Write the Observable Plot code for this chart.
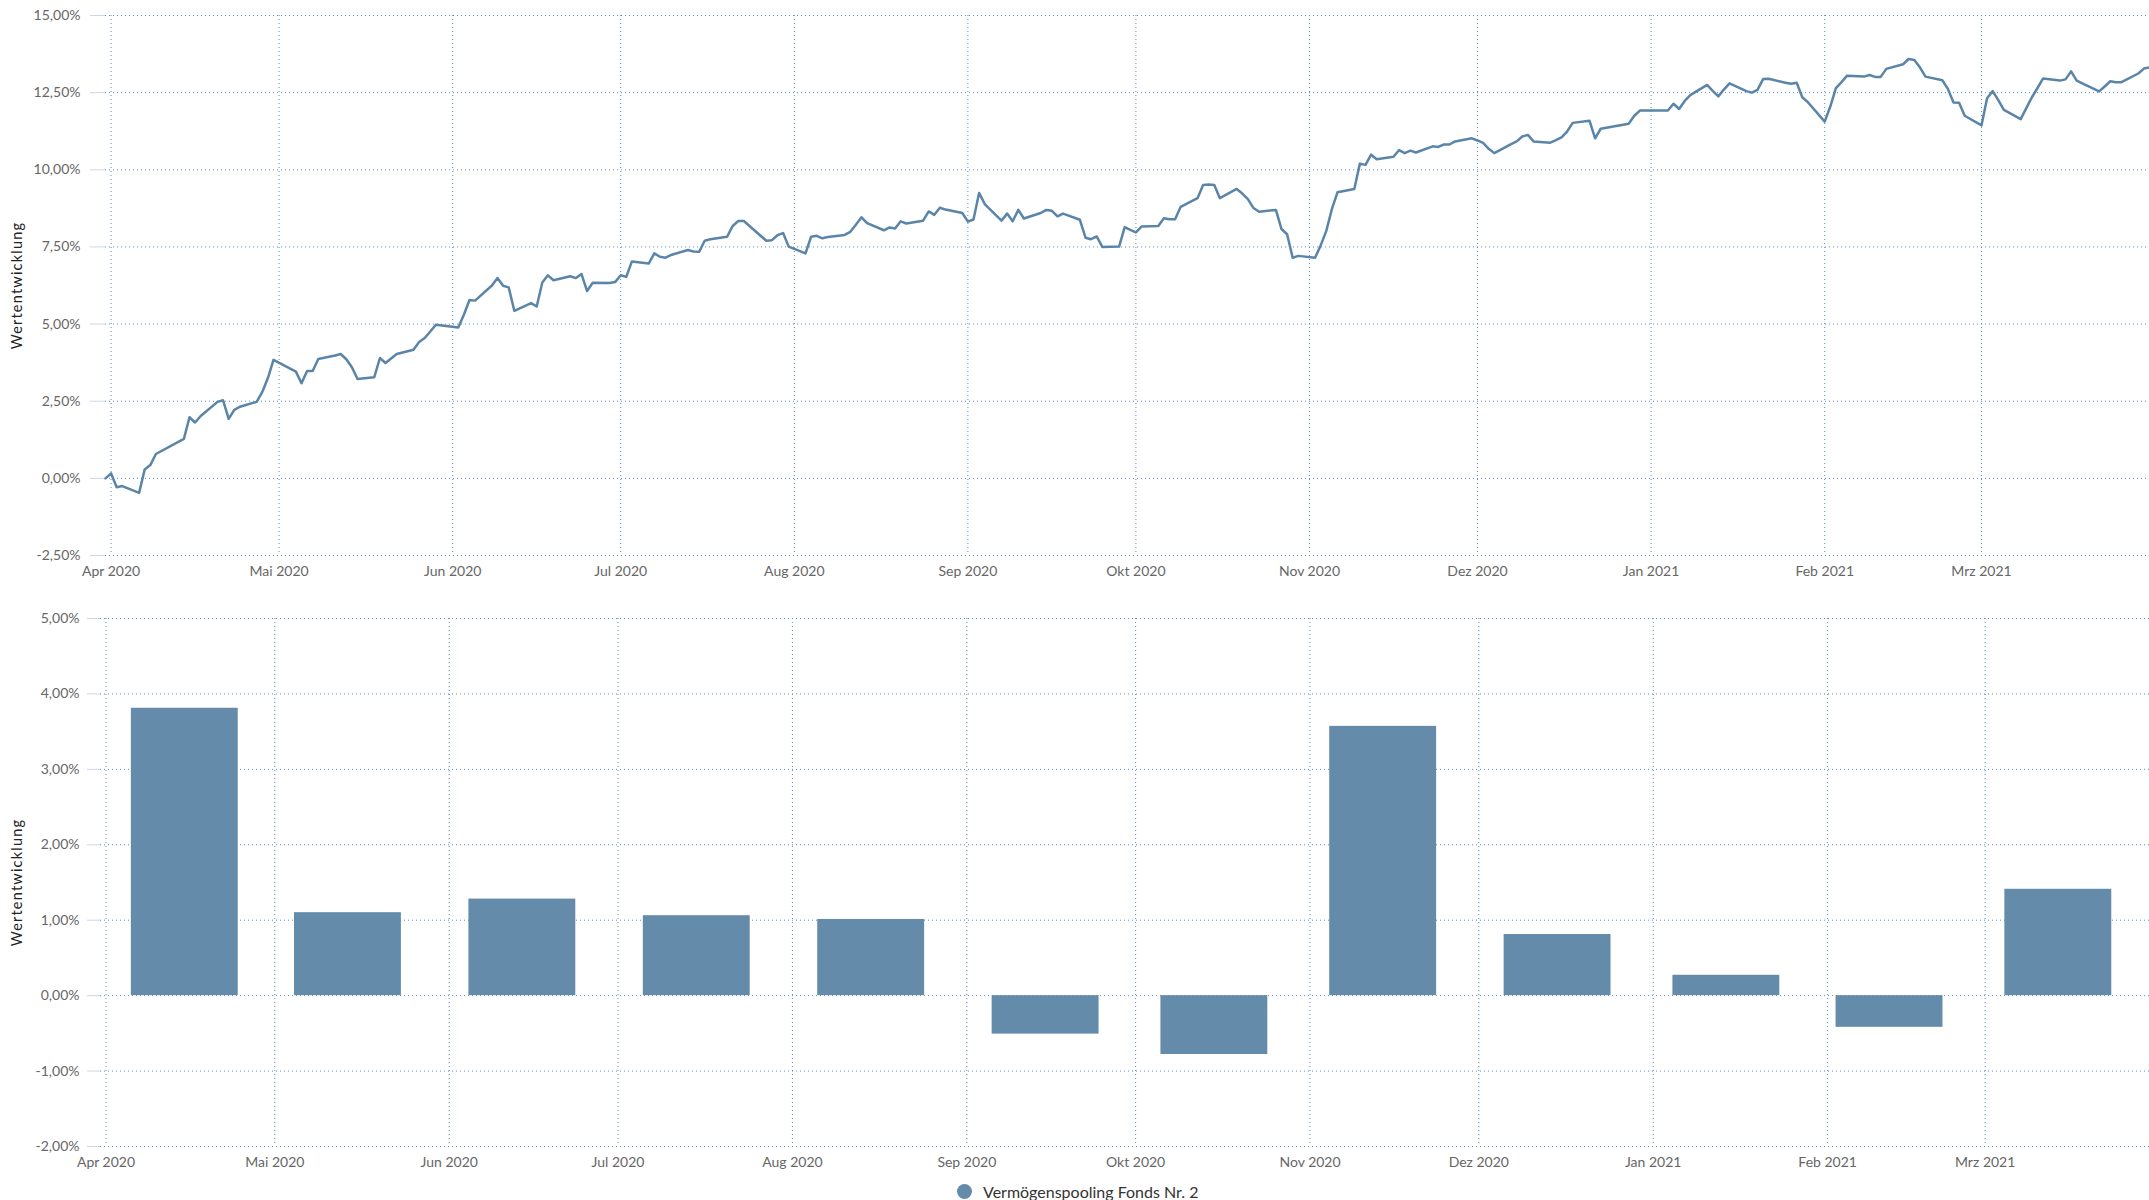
<!DOCTYPE html>
<html><head><meta charset="utf-8">
<script src="https://cdn.jsdelivr.net/npm/d3@7"></script>
<script src="https://cdn.jsdelivr.net/npm/@observablehq/plot@0.6"></script>
<style>
html,body{margin:0;padding:0;background:#fff;overflow:hidden;}
#root{position:relative;width:2149px;height:1200px;font-family:Lato,sans-serif;}
#top{position:absolute;left:0;top:0;}
#bottom{position:absolute;left:0;top:590px;}
#legend{position:absolute;top:1181px;left:957px;height:21px;display:flex;align-items:center;font-family:Lato,sans-serif;font-size:16px;color:#333;white-space:nowrap;}
#legend .dot{width:15px;height:15px;border-radius:50%;margin-right:11px;}
</style></head>
<body><div id="root"><div id="top"></div><div id="bottom"></div><div id="legend"></div></div>
<script>
// ---------- data ----------
const seriesName = "Vermögenspooling Fonds Nr. 2";
const axisTitle = "Wertentwicklung";

const tickDates = ["2020-04-01","2020-05-01","2020-06-01","2020-07-01","2020-08-01","2020-09-01","2020-10-01","2020-11-01","2020-12-01","2021-01-01","2021-02-01","2021-03-01"];
const tickLabels = ["Apr 2020","Mai 2020","Jun 2020","Jul 2020","Aug 2020","Sep 2020","Okt 2020","Nov 2020","Dez 2020","Jan 2021","Feb 2021","Mrz 2021"];

const topYTicks = [-2.5, 0, 2.5, 5, 7.5, 10, 12.5, 15];
const bottomYTicks = [-2, -1, 0, 1, 2, 3, 4, 5];

const lineDates = [
"2020-03-31","2020-04-01","2020-04-02","2020-04-03","2020-04-06","2020-04-07","2020-04-08","2020-04-09","2020-04-14","2020-04-15","2020-04-16","2020-04-17","2020-04-20","2020-04-21","2020-04-22","2020-04-23","2020-04-24","2020-04-27","2020-04-28","2020-04-29","2020-04-30",
"2020-05-04","2020-05-05","2020-05-06","2020-05-07","2020-05-08","2020-05-11","2020-05-12","2020-05-13","2020-05-14","2020-05-15","2020-05-18","2020-05-19","2020-05-20","2020-05-22","2020-05-25","2020-05-26","2020-05-27","2020-05-28","2020-05-29",
"2020-06-02","2020-06-03","2020-06-04","2020-06-05","2020-06-08","2020-06-09","2020-06-10","2020-06-11","2020-06-12","2020-06-15","2020-06-16","2020-06-17","2020-06-18","2020-06-19","2020-06-22","2020-06-23","2020-06-24","2020-06-25","2020-06-26","2020-06-29","2020-06-30",
"2020-07-01","2020-07-02","2020-07-03","2020-07-06","2020-07-07","2020-07-08","2020-07-09","2020-07-10","2020-07-13","2020-07-14","2020-07-15","2020-07-16","2020-07-17","2020-07-20","2020-07-21","2020-07-22","2020-07-23","2020-07-24","2020-07-27","2020-07-28","2020-07-29","2020-07-30","2020-07-31",
"2020-08-03","2020-08-04","2020-08-05","2020-08-06","2020-08-07","2020-08-10","2020-08-11","2020-08-12","2020-08-13","2020-08-14","2020-08-17","2020-08-18","2020-08-19","2020-08-20","2020-08-21","2020-08-24","2020-08-25","2020-08-26","2020-08-27","2020-08-28","2020-08-31",
"2020-09-01","2020-09-02","2020-09-03","2020-09-04","2020-09-07","2020-09-08","2020-09-09","2020-09-10","2020-09-11","2020-09-14","2020-09-15","2020-09-16","2020-09-17","2020-09-18","2020-09-21","2020-09-22","2020-09-23","2020-09-24","2020-09-25","2020-09-28","2020-09-29","2020-09-30",
"2020-10-01","2020-10-02","2020-10-05","2020-10-06","2020-10-07","2020-10-08","2020-10-09","2020-10-12","2020-10-13","2020-10-14","2020-10-15","2020-10-16","2020-10-19","2020-10-20","2020-10-21","2020-10-22","2020-10-23","2020-10-26","2020-10-27","2020-10-28","2020-10-29","2020-10-30",
"2020-11-02","2020-11-03","2020-11-04","2020-11-05","2020-11-06","2020-11-09","2020-11-10","2020-11-11","2020-11-12","2020-11-13","2020-11-16","2020-11-17","2020-11-18","2020-11-19","2020-11-20","2020-11-23","2020-11-24","2020-11-25","2020-11-26","2020-11-27","2020-11-30",
"2020-12-01","2020-12-02","2020-12-03","2020-12-04","2020-12-07","2020-12-08","2020-12-09","2020-12-10","2020-12-11","2020-12-14","2020-12-15","2020-12-16","2020-12-17","2020-12-18","2020-12-21","2020-12-22","2020-12-23","2020-12-28","2020-12-29","2020-12-30",
"2021-01-04","2021-01-05","2021-01-06","2021-01-07","2021-01-08","2021-01-11","2021-01-12","2021-01-13","2021-01-14","2021-01-15","2021-01-18","2021-01-19","2021-01-20","2021-01-21","2021-01-22","2021-01-25","2021-01-26","2021-01-27","2021-01-28","2021-01-29",
"2021-02-01","2021-02-02","2021-02-03","2021-02-04","2021-02-05","2021-02-08","2021-02-09","2021-02-10","2021-02-11","2021-02-12","2021-02-15","2021-02-16","2021-02-17","2021-02-18","2021-02-19","2021-02-22","2021-02-23","2021-02-24","2021-02-25","2021-02-26",
"2021-03-01","2021-03-02","2021-03-03","2021-03-04","2021-03-05","2021-03-08","2021-03-09","2021-03-10","2021-03-11","2021-03-12","2021-03-15","2021-03-16","2021-03-17","2021-03-18","2021-03-19","2021-03-22","2021-03-23","2021-03-24","2021-03-25","2021-03-26","2021-03-29","2021-03-30","2021-03-31"
];
const lineValues = [
0.00,0.16,-0.29,-0.25,-0.47,0.29,0.43,0.79,1.28,1.98,1.81,2.02,2.48,2.53,1.93,2.22,2.32,2.48,2.80,3.25,3.84,
3.46,3.08,3.48,3.48,3.87,3.98,4.03,3.86,3.60,3.22,3.28,3.90,3.74,4.03,4.17,4.42,4.55,4.76,4.98,
4.89,5.30,5.78,5.76,6.25,6.49,6.24,6.19,5.43,5.68,5.57,6.35,6.58,6.42,6.55,6.49,6.62,6.07,6.34,6.33,6.36,
6.58,6.53,7.03,6.96,7.29,7.18,7.15,7.24,7.40,7.35,7.34,7.70,7.75,7.83,8.18,8.34,8.34,8.18,7.70,7.72,7.88,7.95,7.51,
7.29,7.83,7.86,7.78,7.82,7.89,7.99,8.22,8.46,8.27,8.04,8.13,8.10,8.33,8.26,8.35,8.65,8.54,8.77,8.71,8.60,
8.32,8.39,9.25,8.89,8.35,8.58,8.33,8.70,8.42,8.60,8.70,8.67,8.49,8.58,8.38,7.80,7.75,7.84,7.50,7.51,8.14,8.05,
7.97,8.16,8.18,8.43,8.40,8.40,8.80,9.08,9.51,9.52,9.51,9.08,9.38,9.23,9.05,8.76,8.64,8.70,8.08,7.91,7.15,7.21,
7.15,7.55,8.02,8.73,9.27,9.38,10.20,10.16,10.49,10.34,10.42,10.64,10.54,10.62,10.56,10.76,10.74,10.82,10.82,10.92,11.02,
10.95,10.87,10.68,10.54,10.83,10.92,11.08,11.13,10.92,10.88,10.96,11.05,11.24,11.52,11.59,11.02,11.33,11.49,11.75,11.92,
11.92,12.14,11.97,12.23,12.42,12.75,12.56,12.38,12.60,12.80,12.55,12.50,12.59,12.94,12.95,12.82,12.79,12.82,12.35,12.19,
11.56,12.05,12.65,12.84,13.05,13.02,13.07,13.01,13.01,13.27,13.42,13.59,13.56,13.32,13.02,12.90,12.62,12.18,12.17,11.75,
11.44,12.32,12.55,12.26,11.94,11.64,12.00,12.35,12.65,12.96,12.89,12.93,13.19,12.89,12.80,12.54,12.70,12.87,12.84,12.84,13.12,13.28,13.32
];

const barDates = ["2020-04-15","2020-05-14","2020-06-14","2020-07-15","2020-08-15","2020-09-15","2020-10-15","2020-11-14","2020-12-15","2021-01-14","2021-02-12","2021-03-14"];
const barValues = [3.81, 1.10, 1.28, 1.06, 1.01, -0.51, -0.78, 3.57, 0.81, 0.27, -0.42, 1.41];

// ---------- styling ----------
const lineColor = "#5a85a9";
const barColor = "#658bab";
const gridColor = "#5f8ac2";
const tickColor = "#ccd6eb";
const labelColor = "#666666";
const DAY = 864e5;
const barHalfDays = 9.5;

const tickDateObjs = tickDates.map(d => new Date(d));
const labelMap = new Map(tickDateObjs.map((d, i) => [+d, tickLabels[i]]));
const fmtPct = v => v.toFixed(2).replace(".", ",") + "%";
const lineData = lineDates.map((d, i) => ({date: new Date(d), value: lineValues[i]}));
const barData = barDates.map((d, i) => ({date: new Date(d), value: barValues[i]}));

const baseStyle = {fontFamily: "Lato, sans-serif", fontSize: "14px", color: labelColor, background: "white", overflow: "visible"};

function gridMarks(yTicks) {
  return [
    Plot.gridY(yTicks, {stroke: gridColor, strokeOpacity: 1, strokeWidth: 1, strokeDasharray: "1,3"}),
    Plot.gridX(tickDateObjs, {stroke: gridColor, strokeOpacity: 1, strokeWidth: 1, strokeDasharray: "1,3"})
  ];
}

const topPlot = Plot.plot({
  width: 2149, height: 590,
  marginTop: 15, marginBottom: 35, marginLeft: 105, marginRight: 0,
  style: baseStyle,
  x: {type: "utc", domain: [new Date("2020-03-31"), new Date("2021-03-31")]},
  y: {domain: [-2.5, 15]},
  marks: [
    ...gridMarks(topYTicks),
    Plot.axisY(topYTicks, {tickFormat: fmtPct, tickSize: 15, tickPadding: 10, stroke: tickColor, fill: labelColor, label: null}),
    Plot.axisX(tickDateObjs, {tickFormat: d => labelMap.get(+d), tickSize: 0, tickPadding: 11, fill: labelColor, label: null}),
    Plot.text([axisTitle], {frameAnchor: "left", dx: -88, rotate: -90, textAnchor: "middle", fill: "#222", fontSize: 14.5}),
    Plot.line(lineData, {x: "date", y: "value", stroke: lineColor, strokeWidth: 2.5, strokeLinejoin: "round"})
  ]
});
document.getElementById("top").appendChild(topPlot);

const bottomPlot = Plot.plot({
  width: 2149, height: 585,
  marginTop: 28, marginBottom: 29, marginLeft: 100, marginRight: 0,
  style: baseStyle,
  x: {type: "utc", domain: [new Date("2020-03-31T00:30:00Z"), new Date("2021-03-30T05:00:00Z")]},
  y: {domain: [-2, 5]},
  marks: [
    ...gridMarks(bottomYTicks),
    Plot.axisY(bottomYTicks, {tickFormat: fmtPct, tickSize: 13, tickPadding: 8, stroke: tickColor, fill: labelColor, label: null}),
    Plot.axisX(tickDateObjs, {tickFormat: d => labelMap.get(+d), tickSize: 0, tickPadding: 11, fill: labelColor, label: null}),
    Plot.text([axisTitle], {frameAnchor: "left", dx: -83, rotate: -90, textAnchor: "middle", fill: "#222", fontSize: 14.5}),
    Plot.rect(barData, {
      x1: d => new Date(+d.date - barHalfDays * DAY),
      x2: d => new Date(+d.date + barHalfDays * DAY),
      y1: () => 0, y2: "value", fill: barColor
    })
  ]
});
document.getElementById("bottom").appendChild(bottomPlot);

// slightly wider letter spacing of the axis titles, as in the reference
[topPlot, bottomPlot].forEach(svg => {
  d3.select(svg).selectAll("text")
    .filter(function () { return this.textContent === axisTitle; })
    .attr("letter-spacing", "1.2px");
});

const legend = document.getElementById("legend");
const dot = document.createElement("span");
dot.className = "dot"; dot.style.background = barColor;
const lbl = document.createElement("span");
lbl.textContent = seriesName;
legend.appendChild(dot); legend.appendChild(lbl);
</script>
</body></html>
